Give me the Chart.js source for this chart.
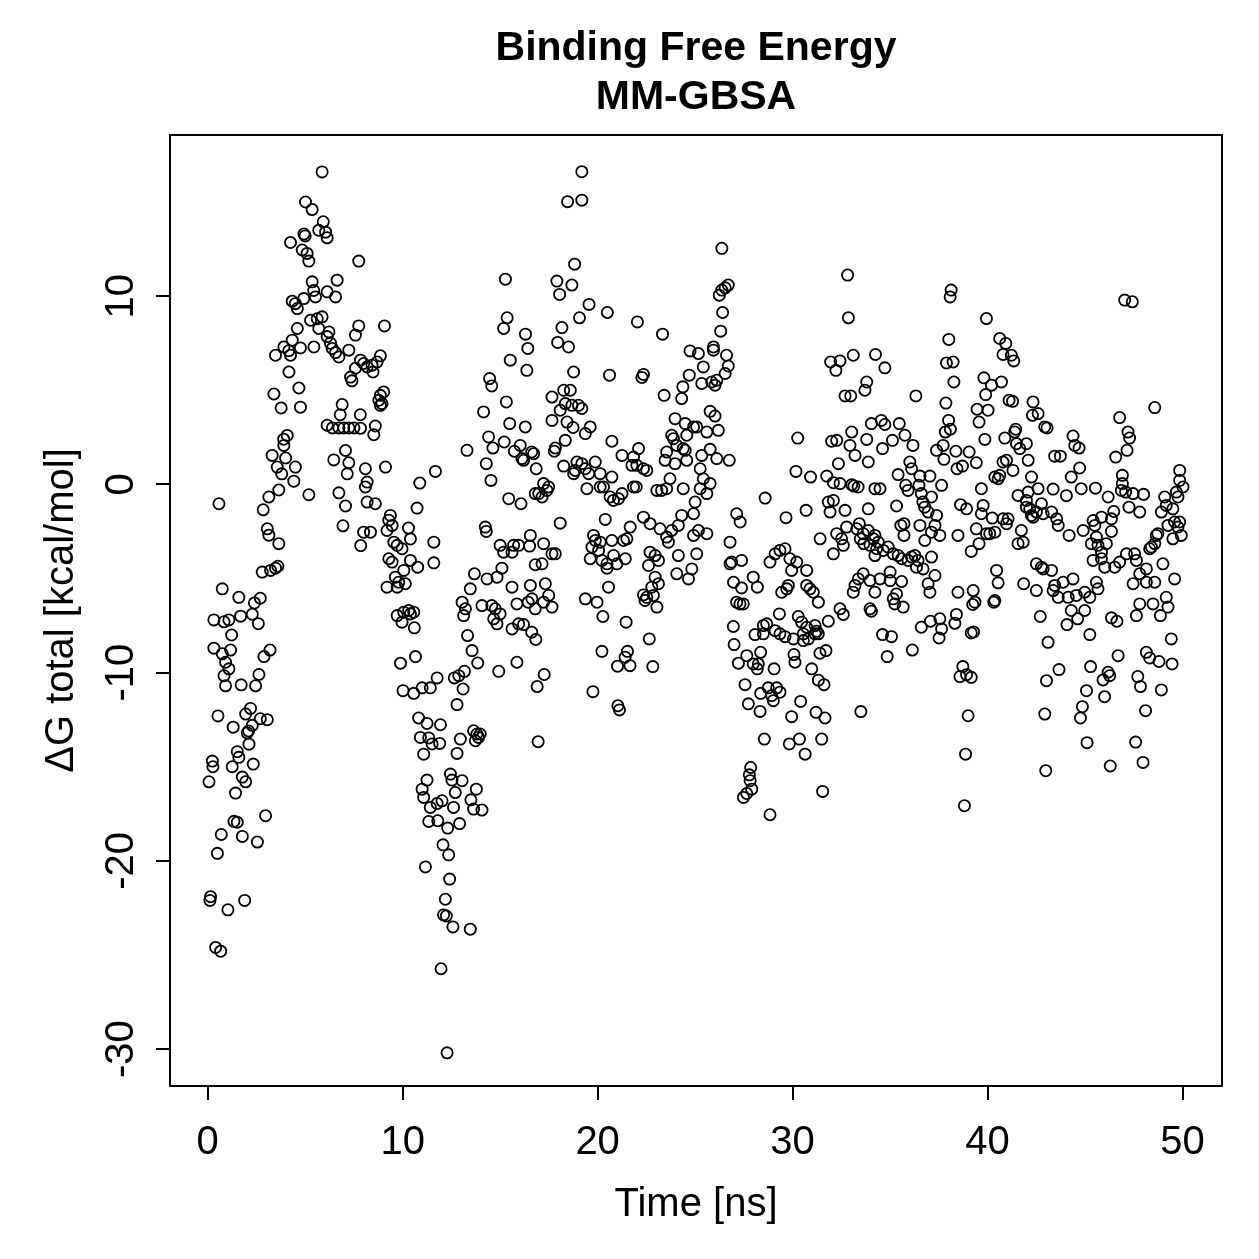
<!DOCTYPE html>
<html>
<head>
<meta charset="utf-8">
<script src="https://cdn.jsdelivr.net/npm/chart.js@4.4.0/dist/chart.umd.min.js"></script>
<style>
  html, body { margin: 0; padding: 0; background: #fff; }
  canvas { display: block; }
</style>
</head>
<body>
<canvas id="mmgbsaChart" width="1259" height="1259"></canvas>
<script>
// time of each frame [ns]
const timeNs = [
  0.07,0.12,0.15,0.24,0.27,0.32,0.32,0.41,0.5,0.53,
  0.58,0.67,0.7,0.75,0.75,0.84,0.84,0.92,0.92,1.04,
  1.09,1.09,1.18,1.23,1.26,1.31,1.35,1.43,1.52,1.52,
  1.6,1.6,1.69,1.72,1.78,1.78,1.9,1.95,1.95,2.03,
  2.1,2.12,2.2,2.29,2.29,2.34,2.4,2.46,2.55,2.6,
  2.63,2.7,2.7,2.8,2.85,2.89,2.97,3.06,3.06,3.14,
  3.14,3.2,3.23,3.31,3.4,3.48,3.48,3.57,3.6,3.65,
  3.65,3.77,3.8,3.9,3.91,3.91,4.0,4.08,4.16,4.17,
  4.25,4.25,4.34,4.34,4.42,4.5,4.5,4.6,4.6,4.68,
  4.76,4.76,4.85,4.93,4.94,5.0,5.02,5.1,5.19,5.19,
  5.28,5.36,5.36,5.44,5.45,5.53,5.62,5.7,5.7,5.87,
  5.87,5.93,6.05,6.13,6.13,6.13,6.13,6.22,6.3,6.39,
  6.4,6.47,6.56,6.56,6.64,6.73,6.73,6.73,6.8,6.9,
  6.94,6.98,7.07,7.07,7.16,7.24,7.24,7.24,7.33,7.4,
  7.5,7.58,7.58,7.75,7.75,7.85,7.83,7.84,7.84,8.0,
  8.0,8.09,8.09,8.18,8.18,8.18,8.35,8.43,8.48,8.52,
  8.6,8.6,8.69,8.78,8.86,8.86,8.86,8.94,9.03,9.07,
  9.12,9.2,9.2,9.29,9.29,9.37,9.46,9.46,9.55,9.63,
  9.72,9.72,9.72,9.8,9.89,9.97,9.97,10.02,10.06,10.06,
  10.14,10.3,10.31,10.4,10.4,10.4,10.57,10.57,10.6,10.66,
  10.74,10.77,10.82,10.88,10.91,11.0,11.0,11.08,11.08,11.17,
  11.25,11.25,11.34,11.34,11.42,11.42,11.51,11.6,11.6,11.68,
  11.77,11.77,11.8,11.9,11.94,11.97,12.02,12.07,12.1,12.19,
  12.24,12.28,12.31,12.36,12.41,12.45,12.53,12.58,12.61,12.65,
  12.7,12.79,12.79,12.88,12.92,12.96,13.05,13.05,13.1,13.13,
  13.17,13.22,13.3,13.33,13.47,13.47,13.5,13.56,13.64,13.64,
  13.68,13.73,13.78,13.81,13.85,13.89,13.98,14.07,14.07,14.15,
  14.24,14.29,14.29,14.33,14.41,14.46,14.53,14.57,14.57,14.63,
  14.67,14.75,14.84,14.84,14.93,15.0,15.0,15.09,15.18,15.18,
  15.21,15.27,15.32,15.36,15.44,15.49,15.52,15.61,15.61,15.61,
  15.69,15.73,15.86,15.86,15.95,15.95,16.03,16.07,16.12,16.2,
  16.2,16.29,16.3,16.37,16.42,16.44,16.51,16.55,16.55,16.62,
  16.62,16.63,16.72,16.83,16.8,16.85,16.8,16.8,16.9,16.95,
  16.98,17.15,17.15,17.23,17.23,17.23,17.26,17.32,17.4,17.49,
  17.49,17.66,17.66,17.66,17.66,17.78,17.83,17.83,17.91,17.95,
  18.05,18.08,18.08,18.17,18.26,18.26,18.34,18.34,18.43,18.46,
  18.51,18.6,18.68,18.68,18.74,18.77,18.77,18.82,18.85,18.94,
  19.02,19.07,19.19,19.19,19.19,19.19,19.37,19.37,19.37,19.45,
  19.54,19.56,19.62,19.62,19.71,19.76,19.79,19.88,19.88,19.97,
  20.05,20.13,20.13,20.13,20.22,20.22,20.27,20.3,20.39,20.48,
  20.48,20.5,20.56,20.61,20.64,20.73,20.73,20.73,20.81,20.82,
  20.99,21.02,21.04,21.07,21.12,21.25,21.25,21.33,21.41,21.42,
  21.46,21.5,21.53,21.66,21.67,21.76,21.84,21.84,21.98,22.01,
  22.04,22.1,22.27,22.35,22.35,22.35,22.35,22.43,22.52,22.52,
  22.61,22.65,22.69,22.69,22.78,22.83,22.86,22.95,22.95,23.04,
  23.04,23.12,23.12,23.2,23.28,23.33,23.41,23.46,23.54,23.54,
  23.54,23.63,23.71,23.8,23.8,23.89,23.97,23.97,24.06,24.06,
  24.14,24.14,24.31,24.31,24.37,24.39,24.39,24.49,24.49,24.57,
  24.57,24.66,24.7,24.74,24.83,24.92,24.92,24.92,25.0,25.08,
  25.08,25.17,25.17,25.26,25.26,25.34,25.34,25.42,25.42,25.6,
  25.6,25.6,25.77,25.77,25.77,25.85,25.94,25.94,26.02,26.02,
  26.11,26.11,26.19,26.24,26.31,26.37,26.37,26.41,26.54,26.54,
  26.61,26.7,26.7,26.75,26.79,26.79,26.87,26.96,26.97,27.0,
  27.13,27.13,27.22,27.3,27.31,27.38,27.38,27.47,27.48,27.56,
  27.65,27.65,27.73,27.78,27.82,27.85,27.9,27.98,27.98,28.07,
  28.19,28.19,28.24,28.33,28.36,28.36,28.5,28.5,28.55,28.59,
  28.67,28.75,28.84,28.84,28.93,29.01,29.05,29.1,29.1,29.18,
  29.32,29.35,29.35,29.35,29.44,29.61,29.61,29.66,29.7,29.78,
  29.83,29.86,29.95,29.95,30.04,30.07,30.12,30.17,30.21,30.26,
  30.29,30.35,30.41,30.46,30.55,30.55,30.64,30.69,30.72,30.72,
  30.72,30.81,30.89,30.92,30.98,31.06,31.15,31.15,31.2,31.23,
  31.32,31.32,31.32,31.4,31.41,31.49,31.54,31.61,31.66,31.71,
  31.75,31.83,31.83,31.92,31.95,32.0,32.09,32.09,32.09,32.22,
  32.26,32.26,32.35,32.43,32.43,32.43,32.51,32.6,32.6,32.69,
  32.69,32.77,32.82,32.86,32.94,32.98,33.03,33.03,33.11,33.11,
  33.14,33.2,33.2,33.29,33.36,33.37,33.42,33.47,33.5,33.62,
  33.62,33.65,33.71,33.8,33.8,33.88,33.88,33.88,33.97,33.97,
  33.97,34.04,34.04,34.14,34.22,34.22,34.22,34.22,34.25,34.31,
  34.39,34.48,34.48,34.55,34.61,34.61,34.65,34.73,34.73,34.85,
  34.9,35.0,35.0,35.07,35.12,35.16,35.16,35.24,35.33,35.33,
  35.41,35.41,35.47,35.55,35.59,35.59,35.67,35.71,35.71,35.76,
  35.8,35.92,35.92,36.01,36.1,36.1,36.14,36.17,36.27,36.32,
  36.35,36.43,36.48,36.53,36.53,36.6,36.6,36.68,36.69,36.77,
  36.78,36.95,36.95,37.04,37.04,37.07,37.12,37.12,37.12,37.3,
  37.3,37.38,37.38,37.51,37.55,37.55,37.64,37.64,37.72,37.76,
  37.83,37.86,37.89,38.0,38.01,38.08,38.09,38.13,38.23,38.27,
  38.32,38.37,38.4,38.43,38.48,38.48,38.58,38.61,38.71,38.73,
  38.81,38.87,38.92,38.92,39.0,39.05,39.16,39.16,39.16,39.24,
  39.26,39.28,39.35,39.42,39.42,39.46,39.56,39.56,39.68,39.68,
  39.77,39.81,39.86,39.9,39.94,39.94,40.02,40.11,40.2,40.24,
  40.32,40.37,40.37,40.37,40.46,40.54,40.54,40.62,40.62,40.71,
  40.79,40.79,40.79,40.88,40.93,40.97,40.97,41.05,41.1,41.22,
  41.28,41.3,41.34,41.39,41.44,41.48,41.56,41.56,41.65,41.73,
  41.82,41.85,41.99,41.99,41.99,42.08,42.08,42.16,42.25,42.25,
  42.3,42.33,42.33,42.5,42.5,42.5,42.59,42.59,42.7,42.76,
  42.76,42.85,42.85,42.93,42.93,42.98,43.02,43.05,43.1,43.28,
  43.28,43.36,43.36,43.44,43.44,43.54,43.62,43.62,43.66,43.73,
  43.87,44.04,44.07,44.13,44.18,44.29,44.29,44.38,44.38,44.47,
  44.55,44.62,44.69,44.72,44.76,44.8,44.86,44.9,44.98,44.98,
  45.07,45.1,45.24,45.24,45.28,45.32,45.41,45.41,45.5,45.53,
  45.58,45.58,45.66,45.66,45.84,45.84,45.84,45.92,46.0,46.01,
  46.09,46.18,46.18,46.26,46.29,46.35,46.35,46.35,46.47,46.52,
  46.57,46.63,46.69,46.77,46.77,46.86,46.91,46.91,47.03,47.08,
  47.12,47.15,47.2,47.25,47.28,47.42,47.46,47.46,47.54,47.59,
  47.63,47.63,47.7,47.8,47.8,47.8,47.84,47.97,48.0,48.1,
  48.14,48.14,48.14,48.31,48.31,48.4,48.48,48.57,48.57,48.57,
  48.65,48.73,48.79,48.86,48.91,48.91,48.99,49.08,49.16,49.16,
  49.25,49.25,49.42,49.46,49.5,49.5,49.59,49.59,49.68,49.76,
  49.76,49.85,49.85,49.85,49.93,50.02
];

// binding free energy of each frame [kcal/mol]
const deltaG = [
  -15.8,-22.1,-21.9,-14.7,-15.0,-7.2,-8.7,-24.6,-19.6,-12.3,
  -1.03,-24.8,-18.6,-5.55,-9.0,-7.3,-10.16,-9.45,-10.7,-22.6,
  -7.2,-9.8,-8.8,-8.0,-15.0,-12.9,-17.9,-16.4,-14.2,-17.95,
  -14.5,-6.0,-7.0,-10.65,-15.55,-18.7,-22.1,-15.8,-12.2,-13.2,
  -13.1,-13.8,-11.9,-12.8,-6.9,-14.86,-6.3,-10.7,-19.0,-7.4,
  -10.1,-6.05,-12.45,-4.66,-1.35,-9.15,-17.6,-12.5,-2.36,-2.7,
  -0.67,-8.8,-4.57,1.54,4.8,-4.45,6.86,0.92,-4.35,-0.3,
  -3.15,4.06,0.56,2.4,2.07,7.3,1.4,2.6,7.1,5.97,
  6.86,12.85,7.66,9.73,0.17,9.6,0.92,9.34,8.28,5.12,
  7.25,4.1,12.45,9.87,13.3,13.2,15.0,12.27,11.86,-0.55,
  8.72,14.6,10.76,10.3,7.3,9.96,8.8,13.5,8.28,16.6,
  8.9,13.95,13.4,13.1,10.23,7.85,3.14,8.1,7.5,7.22,
  3.0,1.3,7.0,9.96,10.85,6.77,3.0,-0.45,3.7,4.24,
  -2.2,3.0,1.8,-1.15,0.56,7.13,3.0,1.15,5.7,5.5,
  3.0,7.93,6.17,11.86,8.42,-3.25,3.7,6.6,2.98,-2.54,
  6.42,0.83,-0.14,6.24,0.12,-0.94,-2.54,6.33,5.97,2.64,
  3.1,-1.03,6.5,4.47,6.83,4.73,4.2,4.29,4.91,8.42,
  0.92,-2.45,-5.46,-1.9,-3.95,-1.65,-2.18,-4.13,-3.07,-4.93,
  -3.24,-5.46,-6.97,-5.2,-9.5,-3.42,-7.32,-10.96,-4.57,-6.79,
  -5.28,-2.32,-6.7,-2.9,-4.04,-6.88,-6.79,-11.1,-7.62,-9.15,
  -1.26,-4.4,-12.41,0.07,-13.44,-10.81,-16.19,-14.33,-16.63,-20.32,
  -12.7,-15.71,-13.47,-17.91,-10.81,-17.16,-13.79,-3.07,-4.17,0.69,
  -10.28,-16.95,-17.87,-13.76,-12.77,-25.73,-16.81,-19.15,-22.87,-22.04,
  -22.93,-30.2,-18.26,-19.68,-20.97,-15.39,-15.71,-23.51,-17.16,-10.28,
  -16.37,-14.29,-11.7,-10.16,-18.02,-13.53,-15.74,-6.26,-10.87,-6.97,
  -9.93,-6.61,1.81,-8.03,-23.63,-5.55,-16.76,-8.83,-13.09,-17.25,
  -4.75,-13.62,-16.19,-13.26,-9.49,-13.44,-13.26,-17.3,-6.44,3.85,
  -2.27,-2.5,1.1,-5.02,2.52,5.62,0.21,5.23,-6.44,1.93,
  -7.14,-6.61,-4.93,-7.41,-9.93,-3.24,-6.88,-4.45,8.28,-3.6,
  2.25,10.9,4.38,8.85,-0.76,3.23,6.6,-3.6,-5.46,-7.68,
  -3.24,1.76,-6.35,-9.45,-3.24,-7.41,2.07,-1.03,1.37,1.28,
  -7.45,3.05,7.98,6.06,7.22,-6.26,-3.28,-5.37,-2.71,1.72,
  -7.85,-6.08,1.63,-8.24,-0.49,0.83,-4.27,-6.61,-10.74,-13.67,
  -0.49,-0.67,-4.22,0.04,-3.15,-6.26,-10.1,-5.28,-0.32,-0.14,
  -5.9,4.64,3.4,-3.69,-6.52,1.76,1.93,-3.69,10.8,7.54,
  10.09,3.94,-2.06,8.33,5.0,0.97,4.29,2.34,3.31,15.02,
  7.3,5.0,10.59,4.2,3.02,5.97,0.57,11.7,0.74,1.19,
  4.2,8.85,16.61,15.1,4.03,1.1,2.7,0.83,-6.08,-0.23,
  0.57,9.56,3.05,-3.95,-3.33,-11.01,-2.71,1.19,-2.98,-6.26,
  -3.51,0.57,-0.14,-3.07,-4.04,-8.87,-7.02,-0.14,-1.86,-4.22,
  -4.45,9.13,-5.46,5.8,-0.67,2.29,0.39,-2.98,-0.85,-3.78,
  -4.22,-9.66,-11.76,-0.76,-11.98,1.54,-0.49,-2.98,-9.18,-3.95,
  -7.32,-2.89,-8.87,-9.63,-2.27,1.01,1.45,-0.14,-0.14,1.01,
  8.63,1.9,5.68,5.84,0.83,-1.74,-5.87,-6.17,0.74,-6.0,
  -4.31,-8.21,-2.09,-3.6,-5.46,-9.68,-5.9,-3.78,-4.93,-0.32,
  -6.52,-4.04,-5.28,-2.36,-0.32,7.98,4.73,1.28,1.72,-0.23,
  -2.8,-3.07,0.3,2.61,-2.45,2.43,3.49,1.1,2.07,-4.75,
  -2.18,-3.78,4.56,-1.65,5.18,1.9,-0.23,3.23,1.81,2.61,
  1.28,-5.02,5.8,7.09,-4.49,3.05,-1.56,-2.71,-0.94,3.05,
  -3.69,6.95,-2.45,0.83,-0.23,5.36,1.54,6.24,0.3,2.78,
  -0.49,-2.62,3.88,1.86,0.04,5.44,7.3,7.13,5.27,3.63,
  5.53,1.37,2.87,10.05,8.14,12.54,10.32,9.13,10.44,5.89,
  6.86,10.59,6.29,1.28,-3.07,-4.22,-4.13,-7.55,-5.2,-8.51,
  -1.56,-6.26,-9.5,-6.35,-2.0,-4.04,-5.5,-6.35,-16.63,-10.64,
  -9.1,-16.42,-11.66,-15.43,-15.74,-15.04,-16.19,-4.93,-9.54,-7.98,
  -5.46,-9.8,-9.54,-12.06,-8.92,-11.1,-7.5,-7.94,-13.53,-0.73,
  -7.41,-10.81,-4.13,-17.55,-11.22,-11.49,-9.8,-3.69,-7.77,-10.81,
  -6.88,-3.51,-7.94,-11.04,-5.73,-3.42,-8.09,-1.77,-5.55,-5.37,
  -13.79,-3.95,-4.57,-12.34,-8.21,-9.04,-9.45,0.69,-4.13,2.46,
  -7.02,-13.53,-11.53,-7.32,-7.94,-8.3,-14.33,-1.38,-4.57,-5.37,
  -7.59,-8.21,-5.55,0.39,-9.8,-5.73,-7.5,-7.94,-12.11,-7.8,
  -6.26,-7.94,-10.4,-8.97,-2.89,-13.53,-16.31,-10.64,-12.41,-8.83,
  0.44,-0.94,-7.27,-1.47,6.5,2.29,0.09,-0.85,-3.69,6.06,
  2.34,-2.62,1.1,6.56,0.04,-6.61,-2.89,-3.24,-6.91,4.7,
  -1.38,-2.27,11.12,8.85,2.07,4.7,2.78,-0.02,6.86,-5.73,
  -0.09,1.54,-5.37,-2.36,-0.14,-5.02,-2.09,-2.89,-12.07,-2.62,
  -4.75,-3.15,5.0,5.44,2.39,1.19,-2.45,-1.3,-3.24,-5.11,
  -6.61,3.23,-6.74,-2.89,-0.23,-3.78,-5.73,-2.71,6.9,-3.42,
  -3.07,-0.23,-5.02,3.4,1.9,-7.98,-3.51,6.19,3.18,-9.15,
  -3.33,-4.66,-5.11,-8.09,2.34,-3.69,-6.08,-6.35,-1.15,-5.82,
  0.52,-3.78,3.23,-2.18,-3.95,-5.16,-6.52,-2.09,-2.71,2.61,
  -0.05,-0.32,-4.04,1.19,0.83,-3.86,-8.8,2.07,-3.78,4.7,
  -4.4,-4.04,-0.05,0.44,-2.18,-0.49,-7.59,-0.94,-4.49,-1.21,
  -2.98,-1.47,-5.28,0.44,-5.73,-7.27,-0.67,-2.54,-3.86,-2.18,
  -4.84,1.81,-1.65,-8.16,-2.71,-7.14,-0.05,-7.68,2.07,1.33,
  2.78,4.32,6.45,3.4,7.7,9.96,2.93,10.32,6.5,5.44,
  -7.38,1.76,-6.91,0.83,-2.71,-5.73,-10.21,-1.08,0.97,-9.68,
  -17.07,-14.33,-1.3,-10.11,-12.29,1.72,-3.56,-7.89,-10.25,-6.38,
  -5.64,-7.84,-6.26,1.15,-2.36,3.99,3.31,-3.15,-0.23,-1.56,
  -1.12,5.66,2.39,4.77,8.81,-2.62,3.94,-2.62,5.27,-1.79,
  -6.26,0.39,-2.54,-6.17,-4.57,0.3,-5.23,7.75,0.48,5.44,
  6.9,1.19,-1.83,2.46,7.49,1.28,-2.09,-1.83,4.47,6.86,
  4.41,0.74,6.56,2.78,2.93,2.16,-0.59,-3.15,1.9,-2.45,
  -3.07,-5.28,2.16,-0.85,-1.21,1.28,-0.41,-1.3,0.39,-1.65,
  3.67,4.38,-1.74,-1.47,-4.22,-5.64,3.76,-0.23,-7.02,-1.03,
  -4.4,-1.56,-4.49,3.05,-12.2,-15.21,-10.43,3.0,-8.39,-1.47,
  -4.57,-0.25,-5.64,1.5,-5.37,-1.83,-2.18,-6.0,-9.84,1.5,
  -5.2,-0.6,-7.45,-6.0,-2.71,0.39,-6.7,2.57,-5.02,2.07,
  -5.9,-7.14,1.93,0.87,-12.41,-0.23,-11.81,-2.45,-5.73,-6.7,
  -10.96,-13.72,-6.0,-7.98,-9.68,-3.15,-1.92,-4.04,-2.18,-0.2,
  -2.8,-5.2,-3.24,-5.55,-1.74,-3.6,-3.95,-10.39,-11.28,-4.4,
  -3.15,-0.67,-9.98,-10.16,-14.96,-1.83,-2.5,-7.09,-1.44,-4.4,
  1.45,-7.27,-9.1,3.55,-4.13,-0.32,0.48,0.04,9.79,-0.41,
  -3.69,1.81,2.78,-1.21,2.46,9.7,-0.49,-5.28,-3.69,-13.69,
  -4.04,-6.97,-10.21,-1.47,-4.75,-6.35,-10.74,-14.77,-0.53,-12.02,
  -4.49,-5.2,-8.92,-3.42,-9.22,-3.33,-6.35,4.08,-3.15,-5.2,
  -2.71,-2.62,-9.41,-6.97,-1.47,-10.92,-4.22,-0.67,-1.12,-6.0,
  -2.18,-6.52,-8.21,-9.54,-1.3,-2.89,-2.0,-5.02,-0.41,-0.67,
  -2.27,0.74,0.21,-2.0,-2.71,-0.14
];

const xTicks = [0, 10, 20, 30, 40, 50];
const yTicks = [10, 0, -10, -20, -30];
const titleLines = ['Binding Free Energy', 'MM-GBSA'];
const xTitle = 'Time [ns]';
const yTitle = '\u0394G total [kcal/mol]';

const points = timeNs.map((t, i) => ({x: t, y: deltaG[i]}));

const FONT = '"Liberation Sans", Arial, Helvetica, sans-serif';

// R-style box, ticks and labels, drawn from the chart's own scales
const rStyleAxes = {
  id: 'rStyleAxes',
  afterDraw(chart) {
    const ctx = chart.ctx;
    const area = chart.chartArea;
    const xs = chart.scales.x;
    const ys = chart.scales.y;
    ctx.save();
    ctx.strokeStyle = '#000';
    ctx.fillStyle = '#000';
    ctx.lineWidth = 2;
    ctx.strokeRect(area.left, area.top, area.right - area.left, area.bottom - area.top);

    const tickLen = 14;
    ctx.beginPath();
    xTicks.forEach(v => {
      const px = Math.round(xs.getPixelForValue(v));
      ctx.moveTo(px, area.bottom);
      ctx.lineTo(px, area.bottom + tickLen);
    });
    yTicks.forEach(v => {
      const py = Math.round(ys.getPixelForValue(v));
      ctx.moveTo(area.left, py);
      ctx.lineTo(area.left - tickLen, py);
    });
    ctx.stroke();

    ctx.font = '40px ' + FONT;
    ctx.textAlign = 'center';
    ctx.textBaseline = 'alphabetic';
    xTicks.forEach(v => {
      ctx.fillText(String(v), xs.getPixelForValue(v), 1154);
    });
    yTicks.forEach(v => {
      ctx.save();
      ctx.translate(133, ys.getPixelForValue(v));
      ctx.rotate(-Math.PI / 2);
      ctx.fillText(String(v), 0, 0);
      ctx.restore();
    });

    const midX = (area.left + area.right) / 2;
    const midY = (area.top + area.bottom) / 2;
    ctx.fillText(xTitle, midX, 1216);
    ctx.save();
    ctx.translate(73, midY);
    ctx.rotate(-Math.PI / 2);
    ctx.fillText(yTitle, 0, 0);
    ctx.restore();

    ctx.font = 'bold 41px ' + FONT;
    ctx.fillText(titleLines[0], midX, 60);
    ctx.fillText(titleLines[1], midX, 109);
    ctx.restore();
  }
};

const ctx = document.getElementById('mmgbsaChart').getContext('2d');
const chart = new Chart(ctx, {
  type: 'scatter',
  data: {
    datasets: [{
      label: 'MM-GBSA',
      data: points,
      pointStyle: 'circle',
      pointRadius: 5.6,
      pointBorderWidth: 1.8,
      pointBorderColor: '#000',
      pointBackgroundColor: 'rgba(0,0,0,0)',
      showLine: false
    }]
  },
  options: {
    responsive: false,
    devicePixelRatio: 1,
    animation: false,
    layout: {
      padding: {left: 170, right: 37, top: 135, bottom: 173}
    },
    scales: {
      x: {type: 'linear', min: -1.93, max: 52.02, display: false},
      y: {type: 'linear', min: -31.96, max: 18.56, display: false}
    },
    plugins: {
      legend: {display: false},
      tooltip: {enabled: false}
    }
  },
  plugins: [rStyleAxes]
});
</script>
</body>
</html>
